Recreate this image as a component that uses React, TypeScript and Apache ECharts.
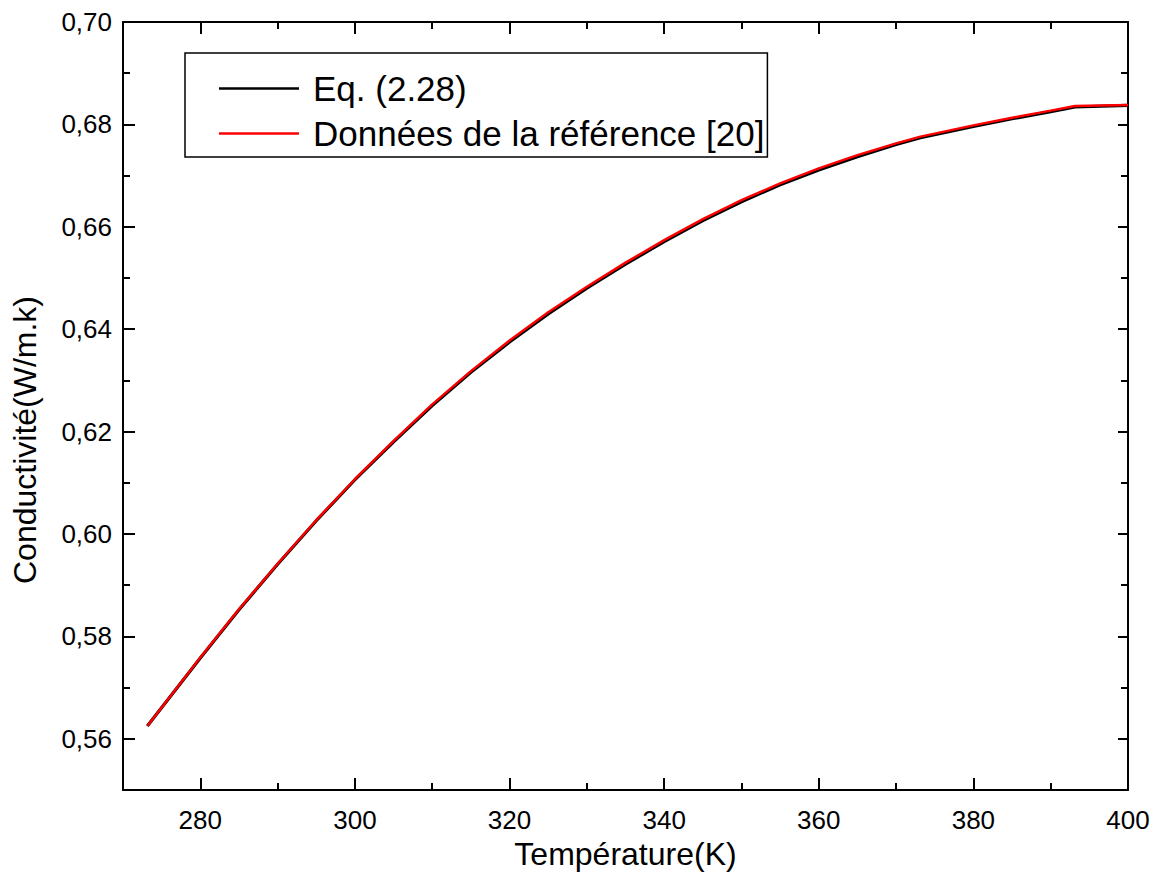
import React, { useEffect, useRef } from "react";
import * as echarts from "echarts";

// Temperatures (K)
const temps = [273.15, 280, 285, 290, 295, 300, 305, 310, 315, 320, 325, 330, 335, 340, 345, 350, 355, 360, 365, 370, 373.15, 380, 385, 390, 393.15, 400];
// Eq. (2.28)
const eqValues = [0.5625, 0.5758, 0.5852, 0.5941, 0.6026, 0.6106, 0.618, 0.6251, 0.6316, 0.6375, 0.643, 0.648, 0.6527, 0.6571, 0.6612, 0.6649, 0.6682, 0.6711, 0.6737, 0.6761, 0.6774, 0.6796, 0.6811, 0.6825, 0.6834, 0.6837];
// Données de la référence [20]
const refValues = [0.5625, 0.5759, 0.5853, 0.5942, 0.6027, 0.6107, 0.6182, 0.6253, 0.6318, 0.6378, 0.6433, 0.6483, 0.653, 0.6574, 0.6615, 0.6652, 0.6685, 0.6714, 0.674, 0.6763, 0.6776, 0.6798, 0.6813, 0.6827, 0.6836, 0.6838];

const xMajor = [280, 300, 320, 340, 360, 380, 400];
const xMinor = [290, 310, 330, 350, 370, 390];
const yMajor = [0.56, 0.58, 0.6, 0.62, 0.64, 0.66, 0.68, 0.7];
const yMinor = [0.55, 0.57, 0.59, 0.61, 0.63, 0.65, 0.67, 0.69];

const seriesNames = ["Eq. (2.28)", "Données de la référence [20]"];
const FONT = "'Liberation Sans', Arial, sans-serif";

export default function App() {
  const ref = useRef<HTMLDivElement>(null);
  useEffect(() => {
    if (!ref.current) return;
    const chart = echarts.init(ref.current, null, { renderer: "svg" });
    const lineStyle = { color: "#000", width: 2 };
    const xBase = { type: "value", min: 270, max: 400, splitLine: { show: false }, gridIndex: 0 };
    const yBase = { type: "value", min: 0.55, max: 0.7, splitLine: { show: false }, gridIndex: 0 };
    const tick = (vals: number[], len: number) => ({
      show: true,
      inside: true,
      length: len,
      customValues: vals,
      lineStyle: { color: "#000", width: 2 },
    });
    const option: any = {
      animation: false,
      backgroundColor: "#fff",
      textStyle: { fontFamily: FONT, color: "#000" },
      grid: { left: 123, right: 29, top: 22, bottom: 89, containLabel: false, outerBoundsMode: "none" },
      legend: {
        orient: "vertical",
        left: 185,
        top: 53,
        icon: "rect",
        itemWidth: 80,
        itemHeight: 2.5,
        itemGap: 10,
        padding: [18, 3, 6, 34],
        borderColor: "#000",
        borderWidth: 1.5,
        textStyle: { fontSize: 35, color: "#000", fontFamily: FONT, lineHeight: 34, padding: [0, 0, 0, 9] },
        data: seriesNames,
      },
      xAxis: [
        {
          ...xBase,
          position: "bottom",
          axisLine: { show: true, onZero: false, lineStyle },
          axisTick: tick(xMajor, 12),
          axisLabel: { show: true, customValues: xMajor, fontSize: 26, color: "#000", margin: 17, fontFamily: FONT },
          name: "Température(K)",
          nameLocation: "middle",
          nameGap: 36,
          nameTextStyle: { fontSize: 32, color: "#000", fontFamily: FONT },
        },
        {
          ...xBase,
          position: "bottom",
          axisLine: { show: false, onZero: false },
          axisTick: tick(xMinor, 7),
          axisLabel: { show: false },
        },
        {
          ...xBase,
          position: "top",
          axisLine: { show: true, onZero: false, lineStyle },
          axisTick: tick(xMajor, 12),
          axisLabel: { show: false },
        },
        {
          ...xBase,
          position: "top",
          axisLine: { show: false, onZero: false },
          axisTick: tick(xMinor, 7),
          axisLabel: { show: false },
        },
      ],
      yAxis: [
        {
          ...yBase,
          position: "left",
          axisLine: { show: true, onZero: false, lineStyle },
          axisTick: tick(yMajor, 12),
          axisLabel: {
            show: true,
            customValues: yMajor,
            fontSize: 26,
            color: "#000",
            margin: 11,
            fontFamily: FONT,
            formatter: (v: number) => v.toFixed(2).replace(".", ","),
          },
        },
        {
          ...yBase,
          position: "left",
          axisLine: { show: false, onZero: false },
          axisTick: tick(yMinor, 7),
          axisLabel: { show: false },
        },
        {
          ...yBase,
          position: "right",
          axisLine: { show: true, onZero: false, lineStyle },
          axisTick: tick(yMajor, 10),
          axisLabel: { show: false },
        },
        {
          ...yBase,
          position: "right",
          axisLine: { show: false, onZero: false },
          axisTick: tick(yMinor, 7),
          axisLabel: { show: false },
        },
      ],
      graphic: [
        {
          type: "text",
          x: 25,
          y: 440,
          rotation: Math.PI / 2,
          style: {
            text: "Conductivité(W/m.k)",
            fontSize: 32,
            fontFamily: FONT,
            fill: "#000",
            align: "center",
            verticalAlign: "middle",
          },
        },
      ],
      series: [
        {
          name: seriesNames[0],
          type: "line",
          xAxisIndex: 0,
          yAxisIndex: 0,
          symbol: "none",
          showSymbol: false,
          lineStyle: { color: "#000", width: 3.2 },
          itemStyle: { color: "#000" },
          data: temps.map((t, i) => [t, eqValues[i]]),
          z: 2,
        },
        {
          name: seriesNames[1],
          type: "line",
          xAxisIndex: 0,
          yAxisIndex: 0,
          symbol: "none",
          showSymbol: false,
          lineStyle: { color: "#ff0000", width: 2.4 },
          itemStyle: { color: "#ff0000" },
          data: temps.map((t, i) => [t, refValues[i]]),
          z: 3,
        },
      ],
    };
    chart.setOption(option);
    return () => chart.dispose();
  }, []);
  return (
    <div
      ref={ref}
      style={{ position: "fixed", left: 0, top: 0, width: 1157, height: 879, background: "#fff" }}
    />
  );
}
